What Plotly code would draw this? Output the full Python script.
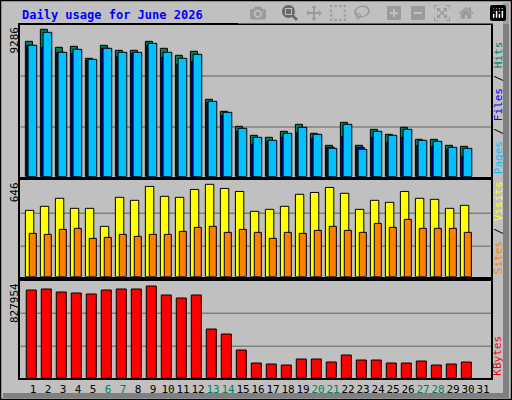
import plotly.graph_objects as go

days = list(range(1, 31))
hits = [8530,9286,8152,8215,7459,8278,7963,7963,8530,8089,7648,7900,4876,4120,3175,2608,2482,2860,3301,2734,1978,3427,1978,2986,2671,3112,2356,2356,1978,1915]
files = [8278,8152,7837,7774,7333,8089,7585,7774,8278,7522,7081,7270,4687,3868,2860,2041,2230,2482,2797,2419,1852,2545,1852,2482,2167,2482,1978,1915,1726,1285]
pages = [8278,9097,7837,8026,7396,8089,7837,7837,8404,7837,7459,7711,4750,4057,3049,2482,2293,2734,3112,2671,1789,3301,1726,2860,2608,2986,2293,2230,1852,1789]
visits = [464,492,548,478,478,352,555,534,631,562,555,610,646,617,596,457,471,492,576,589,624,583,471,534,520,596,548,541,478,499]
sites = [303,296,331,338,268,275,296,282,296,296,317,345,352,310,331,310,268,310,303,324,352,324,310,373,345,401,338,338,338,310]
kbytes = [791814,800846,773750,764718,755686,791814,800846,800846,827954,746654,719557,746654,439562,394402,249888,132471,123439,114407,168599,168599,141503,204728,159567,159567,132471,132471,150535,114407,123439,141503]
day_labels = [str(d) for d in range(1, 32)]
weekend = {6, 7, 13, 14, 20, 21, 27, 28}

W, H = 512, 400
def px(x): return x / W
def py(y): return 1 - y / H

fig = go.Figure()
line = dict(color="black", width=1)
def bar(y, color, off, wid, ax):
    fig.add_trace(go.Bar(x=days, y=y, marker=dict(color=color, line=line),
                         offset=off, width=wid, xaxis="x" + ax, yaxis="y" + ax,
                         showlegend=False, hoverinfo="skip"))
bar(hits, "#00805c", -0.51, 0.47, "")
bar(files, "#0000ff", -0.42, 0.5, "")
bar(pages, "#00c0ff", -0.33, 0.58, "")
bar(visits, "#ffff00", -0.51, 0.56, "2")
bar(sites, "#ff8000", -0.25, 0.47, "2")
bar(kbytes, "#ff0000", -0.45, 0.67, "3")

xr = [0.153, 31.53]
doms = [(25, 176.7), (180.3, 276.7), (281, 377.7)]
ranges = [9286 * 151.7 / 147.4, 646 * 96.4 / 92.4, 827954 * 96.7 / 91.7]
maxes = [9286, 646, 827954]
grids = [(49.7, 100.7), (30.4, 63.4), (31.4, 64.4)]
heights = [151.7, 96.4, 96.7]
ticktext = [f'<span style="color:#00805c">{d}</span>' if int(d) in weekend else d for d in day_labels]
lay = dict(width=W, height=H, margin=dict(l=0, r=0, t=0, b=0),
           paper_bgcolor="#c0c0c0", plot_bgcolor="#c0c0c0", barmode="overlay",
           font=dict(family="DejaVu Sans Mono", size=11, color="black"))
shapes = []
for i, (ax, dom) in enumerate(zip(["", "2", "3"], doms)):
    lay["xaxis" + ax] = dict(domain=[px(20.3), px(491)], range=xr, anchor="y" + ax,
                             showgrid=False, zeroline=False, showline=True, mirror=True,
                             linecolor="black", linewidth=2,
                             showticklabels=(i == 2), tickvals=list(range(1, 32)) if i == 2 else None,
                             ticktext=ticktext if i == 2 else None, ticks="", tickangle=0,
                             tickfont=dict(size=11, family="DejaVu Sans Mono"))
    lay["yaxis" + ax] = dict(domain=[py(dom[1]), py(dom[0])], range=[0, ranges[i]],
                             anchor="x" + ax, showgrid=False, zeroline=False,
                             showticklabels=False, showline=True, mirror=True,
                             linecolor="black", linewidth=2)
    for g in grids[i]:
        yv = g / heights[i] * ranges[i]
        shapes.append(dict(type="line", xref="x" + ax, yref="y" + ax, x0=xr[0], x1=xr[1],
                           y0=yv, y1=yv, line=dict(color="#808080", width=1.5), layer="below"))
fig.update_layout(**lay)
shapes += [
    dict(type="rect", xref="paper", yref="paper", x0=px(503), x1=px(509), y0=py(398), y1=py(3),
         fillcolor="#808080", line=dict(width=0), layer="below"),
    dict(type="rect", xref="paper", yref="paper", x0=px(3), x1=px(509), y0=py(398), y1=py(393),
         fillcolor="#808080", line=dict(width=0), layer="below"),
    dict(type="rect", xref="paper", yref="paper", x0=px(0.5), x1=px(511.5), y0=py(399.5), y1=py(0.5),
         line=dict(color="black", width=1.5)),
]
fig.update_layout(shapes=shapes)

ann = [dict(x=px(20), y=py(15), xref="paper", yref="paper", xanchor="left", yanchor="middle",
            text="<b>Daily usage for June 2026</b>", showarrow=False,
            font=dict(color="#0000ff", size=12, family="DejaVu Sans Mono"))]
for i, dom in enumerate(doms):
    ann.append(dict(x=px(14), y=py(dom[0]), xref="paper", yref="paper", xanchor="center",
                    yanchor="top", textangle=-90, text=str(maxes[i]), showarrow=False,
                    font=dict(size=11)))
right = [
    (doms[0][1], '<span style="color:#00c0ff">Pages</span> / <span style="color:#0000ff">Files</span> / <span style="color:#00805c">Hits</span>'),
    (doms[1][1], '<span style="color:#ff8000">Sites</span> / <span style="color:#ffff00">Visits</span>'),
    (doms[2][1], '<span style="color:#ff0000">KBytes</span>'),
]
for yb, t in right:
    ann.append(dict(x=px(498), y=py(yb), xref="paper", yref="paper", xanchor="center",
                    yanchor="bottom", textangle=-90, text=t, showarrow=False,
                    font=dict(size=11, color="black")))
fig.update_layout(annotations=ann)
fig.write_html("out.html")
with open("out.html", encoding="utf-8") as f:
    html = f.read()
html = html.replace("<head>", "<head><style>html,body{margin:0;padding:0;overflow:hidden}</style>", 1)
with open("out.html", "w", encoding="utf-8") as f:
    f.write(html)
